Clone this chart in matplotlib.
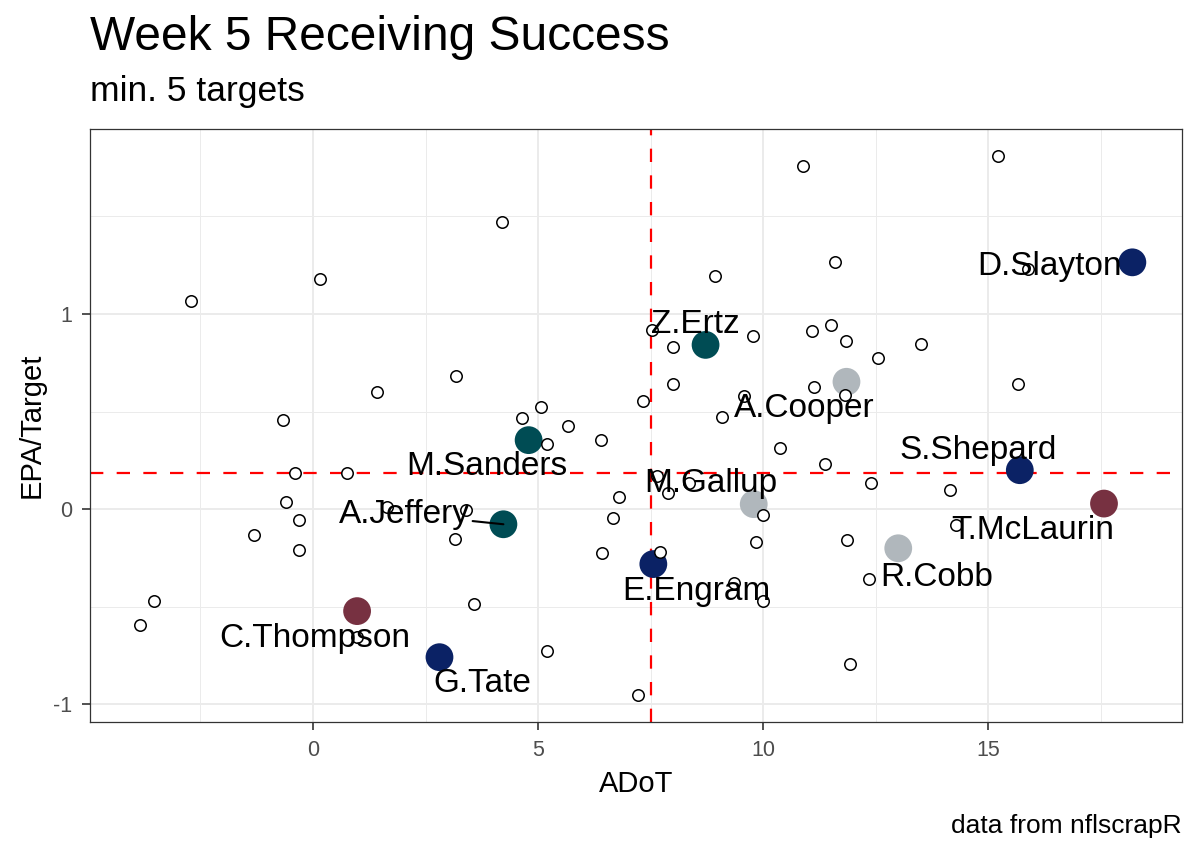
#!/usr/bin/env python3
"""Week 5 receiving success: EPA per target vs ADoT (min. 5 targets)."""

import matplotlib
matplotlib.use("Agg")
import matplotlib.pyplot as plt

plt.rcParams["font.family"] = ["Liberation Sans", "DejaVu Sans"]
plt.rcParams["axes.unicode_minus"] = False

# ── all receivers (open circles) ──────────────────────────────────────────
other_adot = [-2.71, 0.16, 4.19, 3.18, 1.42, -0.66, 4.65, 5.06, 5.66, 7.34,
              7.52, 10.88, 15.22, 8.94, 11.60, 15.89, 8.00, 9.78, 11.08, 11.50,
              11.83, 13.50, 12.55, 8.00, 11.12, 11.82, 9.58, 15.66, 9.09, 5.19,
              6.40, -0.41, 0.76, -0.60, -0.31, -1.32, -0.31, 6.80, 6.67, 6.43,
              3.15, 1.65, 3.40, -3.54, -3.85, 0.98, 3.58, 5.19, 7.21, 10.37,
              11.38, 12.40, 14.14, 14.29, 7.64, 8.36, 7.89, 9.99, 9.84, 11.86,
              12.34, 7.71, 9.36, 9.99, 11.92]
other_epa = [1.066, 1.180, 1.474, 0.684, 0.600, 0.459, 0.466, 0.522, 0.427, 0.557,
             0.918, 1.760, 1.810, 1.195, 1.265, 1.233, 0.830, 0.886, 0.911, 0.944,
             0.861, 0.845, 0.774, 0.643, 0.626, 0.583, 0.578, 0.643, 0.470, 0.332,
             0.354, 0.184, 0.184, 0.039, -0.056, -0.131, -0.208, 0.065, -0.044, -0.223,
             -0.155, 0.014, -0.003, -0.469, -0.595, -0.655, -0.485, -0.726, -0.952, 0.315,
             0.230, 0.136, 0.099, -0.082, 0.170, 0.136, 0.082, -0.029, -0.170, -0.158,
             -0.360, -0.221, -0.378, -0.468, -0.791]

# ── highlighted NFC East receivers ────────────────────────────────────────
players = ["D.Slayton", "Z.Ertz", "A.Cooper", "S.Shepard", "T.McLaurin", "M.Gallup",
           "R.Cobb", "E.Engram", "M.Sanders", "A.Jeffery", "C.Thompson", "G.Tate"]
teams = ["NYG", "PHI", "DAL", "NYG", "WAS", "DAL",
         "DAL", "NYG", "PHI", "PHI", "WAS", "NYG"]
player_adot = [18.20, 8.72, 11.85, 15.70, 17.57, 9.79, 13.00, 7.56, 4.79, 4.23, 0.98, 2.81]
player_epa = [1.265, 0.842, 0.653, 0.200, 0.029, 0.026, -0.200, -0.281, 0.354, -0.077, -0.522, -0.758]

# where the repelled labels ended up (data coords, baseline centre)
label_x = [16.36, 8.49, 10.91, 14.78, 15.99, 8.84, 13.86, 8.51, 3.86, 2.03, 0.03, 3.76]
label_y = [1.199, 0.901, 0.473, 0.259, -0.153, 0.088, -0.391, -0.463, 0.173, -0.068, -0.706, -0.935]
label_segment = ["A.Jeffery"]

TEAM_COLORS = {
    "NYG": "#0B2265",
    "PHI": "#004C54",
    "DAL": "#B0B7BC",
    "WAS": "#773141",
}

ADOT_MEAN = 7.50
EPA_MEAN = 0.187

W, H = 1200, 856
fig = plt.figure(figsize=(W / 100, H / 100), dpi=100)
ax = fig.add_axes([90 / W, 1 - 722 / H, (1182 - 90) / W, (722 - 129) / H])

ax.axvline(ADOT_MEAN, color="red", lw=1.6, ls=(0, (6, 6)), zorder=1.5)
ax.axhline(EPA_MEAN, color="red", lw=1.6, ls=(0, (6, 6)), zorder=1.5)

ax.scatter(player_adot, player_epa, s=400, c=[TEAM_COLORS[t] for t in teams],
           linewidths=0, zorder=2)
ax.scatter(other_adot, other_epa, s=68, facecolors="white", edgecolors="black",
           linewidths=1.1, zorder=3)

for name, px, py, lx, ly in zip(players, player_adot, player_epa, label_x, label_y):
    if name in label_segment:
        ax.annotate(name, xy=(px, py), xytext=(lx, ly), fontsize=24,
                    ha="center", va="baseline", zorder=5,
                    arrowprops=dict(arrowstyle="-", color="black", lw=1.5,
                                    shrinkA=0, shrinkB=0))
    else:
        ax.text(lx, ly, name, fontsize=24, ha="center", va="baseline", zorder=5)

ax.margins(x=0.05, y=0.05)
ax.set_xticks([0, 5, 10, 15])
ax.set_xticks([-2.5, 2.5, 7.5, 12.5, 17.5], minor=True)
ax.set_yticks([-1, 0, 1])
ax.set_yticks([-0.5, 0.5, 1.5], minor=True)
ax.set_yticklabels(["-1", "0", "1"])

ax.set_axisbelow(True)
ax.grid(which="major", color="#EBEBEB", lw=1.4)
ax.grid(which="minor", color="#EBEBEB", lw=0.7)
for sp in ax.spines.values():
    sp.set_color("#333333")
    sp.set_linewidth(0.9)
ax.tick_params(which="major", length=5.8, width=1.2, color="#333333",
               labelsize=15.5, labelcolor="#4D4D4D", pad=7)
ax.tick_params(which="minor", length=0)

fig.text(90 / W, 1 - 50 / H, "Week 5 Receiving Success", fontsize=34.5,
         ha="left", va="baseline")
fig.text(90 / W, 1 - 101.5 / H, "min. 5 targets", fontsize=25.5,
         ha="left", va="baseline")
fig.text(636 / W, 1 - 792.5 / H, "ADoT", fontsize=21, ha="center", va="baseline")
fig.text(40 / W, 1 - 425 / H, "EPA/Target", fontsize=21, rotation=90,
         rotation_mode="anchor", ha="center", va="baseline")
fig.text(1182 / W, 1 - 833 / H, "data from nflscrapR", fontsize=19,
         ha="right", va="baseline")

fig.savefig("out.png", dpi=100)
